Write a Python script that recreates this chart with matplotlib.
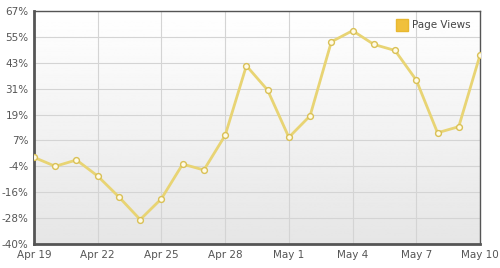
import numpy as np
import matplotlib
matplotlib.use("Agg")
import matplotlib.pyplot as plt
from matplotlib.lines import Line2D

# Daily page views change, Apr 19 .. May 10
days = ["Apr 19", "Apr 20", "Apr 21", "Apr 22", "Apr 23", "Apr 24", "Apr 25",
        "Apr 26", "Apr 27", "Apr 28", "Apr 29", "Apr 30", "May 1", "May 2",
        "May 3", "May 4", "May 5", "May 6", "May 7", "May 8", "May 9", "May 10"]
page_views = [-0.2, -4.3, -1.4, -8.8, -18.4, -28.8, -19.2, -3.3, -6.0, 9.9,
              41.9, 30.7, 9.0, 18.9, 52.9, 58.0, 51.7, 48.9, 35.3, 11.1, 13.9, 46.8]
y_ticks = list(np.linspace(-40, 67, 10))
y_labels = ["-40%", "-28%", "-16%", "-4%", "7%", "19%", "31%", "43%", "55%", "67%"]
x_tick_idx = [0, 3, 6, 9, 12, 15, 18, 21]

fig = plt.figure(figsize=(5, 2.68), dpi=100)
ax = fig.add_axes([0.068, 0.0896, 0.892, 0.869])

x = np.arange(len(days))

# soft vertical gradient background
grad = np.linspace(1.0, 0.9, 256).reshape(-1, 1)
ax.imshow(grad, cmap="gray", vmin=0, vmax=1, aspect="auto",
          extent=[0, len(days) - 1, -40, 67], zorder=0)

ax.plot(x, page_views, color="#e8d474", lw=2.0, zorder=3,
        marker="o", ms=4.2, mfc="#fffbe6", mec="#d9c055", mew=1.0,
        solid_joinstyle="round")

ax.set_xlim(0, len(days) - 1)
ax.set_ylim(-40, 67)
ax.set_yticks(y_ticks)
ax.set_yticklabels(y_labels)
ax.set_xticks(x_tick_idx)
ax.set_xticklabels([days[i] for i in x_tick_idx])
ax.grid(True, color="#d4d4d4", lw=0.8, zorder=1)
ax.tick_params(length=0, labelsize=7.5, colors="#555555", pad=4)

for s in ax.spines.values():
    s.set_color("#555555")
    s.set_linewidth(1.0)
ax.spines["left"].set_linewidth(2.0)
ax.spines["bottom"].set_linewidth(2.0)

handle = Line2D([], [], color="none", marker="s", ms=8,
                mfc="#f0c03c", mec="#e8b830")
leg = ax.legend([handle], ["Page Views"], loc="upper right", frameon=False,
                fontsize=7.5, handlelength=0.8, handletextpad=0.6,
                borderaxespad=0.5)
for t in leg.get_texts():
    t.set_color("#444444")

fig.savefig("out.png", dpi=100, facecolor="white")
